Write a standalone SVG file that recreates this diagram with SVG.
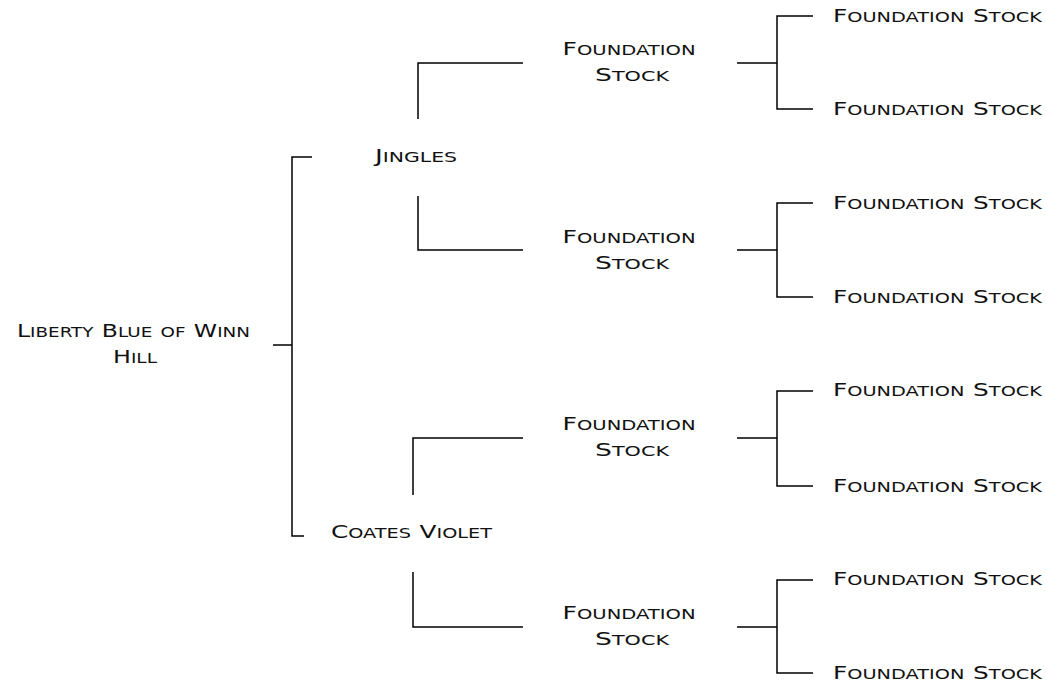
<svg xmlns="http://www.w3.org/2000/svg" width="1047" height="686" viewBox="0 0 1047 686">
<style>
text{font-family:"DejaVu Sans","Liberation Sans",Arial,sans-serif;font-size:18px;font-variant:small-caps;fill:#111;}
.s{font-size:20px;}
.c{text-anchor:middle;}
.ln{fill:none;stroke:#000;stroke-width:1.5;}
</style>
<rect width="1047" height="686" fill="#fff"/>
<g id="connectors" class="ln">
<path d="M273 345H292M312 157H292V536H304"/>
<path d="M418 119V63H523M418 196V250H523"/>
<path d="M413 495V438H523M413 572V627H523"/>
<path d="M737 63H777M813 16H777V109H813"/>
<path d="M737 250H777M813 203H777V297H813"/>
<path d="M737 438H777M813 391H777V486H813"/>
<path d="M737 627H777M813 580H777V673H813"/>
</g>
<g id="n-root"><text x="17" y="337" textLength="233" lengthAdjust="spacingAndGlyphs">L<tspan class="s">iberty </tspan>B<tspan class="s">lue of </tspan>W<tspan class="s">inn</tspan></text><text class="c" x="135" y="363" textLength="44" lengthAdjust="spacingAndGlyphs">H<tspan class="s">ill</tspan></text></g>
<g id="n-jingles"><text class="c" x="416" y="162" textLength="82" lengthAdjust="spacingAndGlyphs">J<tspan class="s">ingles</tspan></text></g>
<g id="n-coates"><text x="331" y="538" textLength="161" lengthAdjust="spacingAndGlyphs">C<tspan class="s">oates </tspan>V<tspan class="s">iolet</tspan></text></g>
<g id="n-fs1"><text class="c" x="629" y="55" textLength="133" lengthAdjust="spacingAndGlyphs">F<tspan class="s">oundation</tspan></text><text class="c" x="632" y="81" textLength="74" lengthAdjust="spacingAndGlyphs">S<tspan class="s">tock</tspan></text></g>
<g id="n-fs2"><text class="c" x="629" y="243" textLength="133" lengthAdjust="spacingAndGlyphs">F<tspan class="s">oundation</tspan></text><text class="c" x="632" y="269" textLength="74" lengthAdjust="spacingAndGlyphs">S<tspan class="s">tock</tspan></text></g>
<g id="n-fs3"><text class="c" x="629" y="430" textLength="133" lengthAdjust="spacingAndGlyphs">F<tspan class="s">oundation</tspan></text><text class="c" x="632" y="456" textLength="74" lengthAdjust="spacingAndGlyphs">S<tspan class="s">tock</tspan></text></g>
<g id="n-fs4"><text class="c" x="629" y="619" textLength="133" lengthAdjust="spacingAndGlyphs">F<tspan class="s">oundation</tspan></text><text class="c" x="632" y="645" textLength="74" lengthAdjust="spacingAndGlyphs">S<tspan class="s">tock</tspan></text></g>
<g id="n-l3-1"><text x="833" y="22" textLength="209" lengthAdjust="spacingAndGlyphs">F<tspan class="s">oundation </tspan>S<tspan class="s">tock</tspan></text></g>
<g id="n-l3-2"><text x="833" y="115" textLength="209" lengthAdjust="spacingAndGlyphs">F<tspan class="s">oundation </tspan>S<tspan class="s">tock</tspan></text></g>
<g id="n-l3-3"><text x="833" y="209" textLength="209" lengthAdjust="spacingAndGlyphs">F<tspan class="s">oundation </tspan>S<tspan class="s">tock</tspan></text></g>
<g id="n-l3-4"><text x="833" y="303" textLength="209" lengthAdjust="spacingAndGlyphs">F<tspan class="s">oundation </tspan>S<tspan class="s">tock</tspan></text></g>
<g id="n-l3-5"><text x="833" y="396" textLength="209" lengthAdjust="spacingAndGlyphs">F<tspan class="s">oundation </tspan>S<tspan class="s">tock</tspan></text></g>
<g id="n-l3-6"><text x="833" y="492" textLength="209" lengthAdjust="spacingAndGlyphs">F<tspan class="s">oundation </tspan>S<tspan class="s">tock</tspan></text></g>
<g id="n-l3-7"><text x="833" y="585" textLength="209" lengthAdjust="spacingAndGlyphs">F<tspan class="s">oundation </tspan>S<tspan class="s">tock</tspan></text></g>
<g id="n-l3-8"><text x="833" y="679" textLength="209" lengthAdjust="spacingAndGlyphs">F<tspan class="s">oundation </tspan>S<tspan class="s">tock</tspan></text></g>
</svg>
